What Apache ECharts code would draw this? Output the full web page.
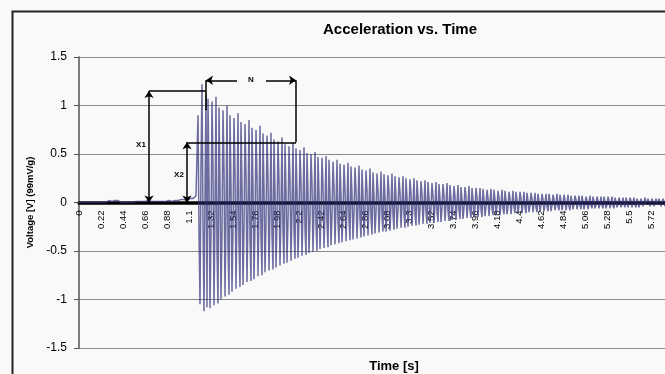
<!DOCTYPE html>
<html>
<head>
<meta charset="utf-8">
<script src="https://cdn.jsdelivr.net/npm/echarts@6/dist/echarts.min.js"></script>
<style>
  html, body { margin: 0; padding: 0; background: #f9f9f9; }
  #chart { width: 665px; height: 374px; }
</style>
</head>
<body>
<div id="chart"></div>
<script>
// sample spacing of the recording, seconds
const timeStep = 0.01;

// quiet part before the tap, 0 .. 1.17 s
const quiet = [
  0, 0, 0, 0, 0, 0, 0, 0, 0, 0, 0, 0, 0, 0, 0, 0, 0, 0, 0, 0,
  0, 0, 0, 0, 0, 0, 0, 0, 0, 0.01, 0.02, 0.01, 0.02, 0.01, 0.02, 0.01, 0.02, 0.01, 0.01, 0.02,
  0.01, 0.01, 0, 0, 0, 0, 0.01, 0, 0, 0, 0, 0, 0.01, 0, 0, 0, 0.01, 0.01, 0, 0.01,
  0.01, 0.02, 0.01, 0.01, 0.02, 0.01, 0.01, 0, 0.01, 0.02, 0.01, 0.02, 0.01, 0.01, 0, 0.01, 0.01, 0.02, 0.01, 0.01,
  0.02, 0.01, 0.02, 0.02, 0.01, 0.02, 0.03, 0.01, 0.02, 0.01, 0.02, 0.03, 0.02, 0.01, 0.02, 0.03, 0.02, 0.02, 0.03, 0.02,
  0.03, 0.02, 0.03, 0.04, 0.02, 0.03, 0.04, 0.03, 0.02, 0.04, 0.03, 0.04, 0.05, 0.03, 0.04, 0.06, 0.05, 0.07
];

// ringing after the tap, 1.18 .. 5.86 s (one row = 0.11 s, three cycles)
const ringing = [
  0.05, 0.90, -0.30, -1.05, 0.40, 1.22, -0.20, -1.12, 0.10, 1.12, -1.08,
  1.07, 0.22, -1.09, -0.33, 1.04, 0.38, -1.06, -0.11, 1.09, -0.49, -1.04,
  0.98, 0.20, -1.00, -0.30, 0.95, 0.35, -0.97, -0.10, 1.00, -0.45, -0.95,
  0.90, 0.18, -0.92, -0.28, 0.87, 0.32, -0.89, -0.09, 0.92, -0.41, -0.87,
  0.83, 0.17, -0.85, -0.26, 0.81, 0.30, -0.82, -0.09, 0.85, -0.38, -0.81,
  0.77, 0.16, -0.79, -0.24, 0.75, 0.27, -0.76, -0.08, 0.79, -0.35, -0.75,
  0.71, 0.14, -0.72, -0.22, 0.69, 0.25, -0.70, -0.07, 0.72, -0.33, -0.69,
  0.65, 0.13, -0.67, -0.20, 0.63, 0.23, -0.65, -0.07, 0.67, -0.30, -0.63,
  0.60, 0.12, -0.62, -0.18, 0.58, 0.22, -0.60, -0.06, 0.62, -0.28, -0.58,
  0.56, 0.11, -0.57, -0.17, 0.54, 0.20, -0.55, -0.06, 0.57, -0.26, -0.54,
  0.51, 0.10, -0.52, -0.16, 0.50, 0.18, -0.51, -0.05, 0.52, -0.23, -0.50,
  0.47, 0.10, -0.48, -0.14, 0.46, 0.17, -0.47, -0.05, 0.48, -0.22, -0.46,
  0.44, 0.09, -0.44, -0.13, 0.42, 0.16, -0.43, -0.04, 0.44, -0.20, -0.42,
  0.40, 0.08, -0.41, -0.12, 0.39, 0.14, -0.40, -0.04, 0.41, -0.18, -0.39,
  0.37, 0.08, -0.38, -0.11, 0.36, 0.13, -0.37, -0.04, 0.38, -0.17, -0.36,
  0.34, 0.07, -0.35, -0.10, 0.33, 0.12, -0.34, -0.03, 0.35, -0.16, -0.33,
  0.31, 0.06, -0.32, -0.10, 0.30, 0.11, -0.31, -0.03, 0.32, -0.14, -0.30,
  0.29, 0.06, -0.30, -0.09, 0.28, 0.10, -0.29, -0.03, 0.30, -0.13, -0.28,
  0.27, 0.05, -0.27, -0.08, 0.26, 0.10, -0.26, -0.03, 0.27, -0.12, -0.26,
  0.25, 0.05, -0.25, -0.08, 0.24, 0.09, -0.24, -0.03, 0.25, -0.11, -0.24,
  0.23, 0.05, -0.23, -0.07, 0.22, 0.08, -0.22, -0.02, 0.23, -0.10, -0.22,
  0.21, 0.04, -0.21, -0.06, 0.20, 0.07, -0.21, -0.02, 0.21, -0.10, -0.20,
  0.19, 0.04, -0.20, -0.06, 0.19, 0.07, -0.19, -0.02, 0.20, -0.09, -0.19,
  0.18, 0.04, -0.18, -0.05, 0.17, 0.06, -0.18, -0.02, 0.18, -0.08, -0.17,
  0.16, 0.03, -0.17, -0.05, 0.16, 0.06, -0.16, -0.02, 0.17, -0.08, -0.16,
  0.15, 0.03, -0.15, -0.05, 0.15, 0.05, -0.15, -0.02, 0.15, -0.07, -0.15,
  0.14, 0.03, -0.14, -0.04, 0.13, 0.05, -0.14, -0.01, 0.14, -0.06, -0.13,
  0.13, 0.03, -0.13, -0.04, 0.12, 0.05, -0.13, -0.01, 0.13, -0.06, -0.12,
  0.12, 0.02, -0.12, -0.04, 0.11, 0.04, -0.12, -0.01, 0.12, -0.05, -0.11,
  0.11, 0.02, -0.11, -0.03, 0.11, 0.04, -0.11, -0.01, 0.11, -0.05, -0.11,
  0.10, 0.02, -0.10, -0.03, 0.10, 0.04, -0.10, -0.01, 0.10, -0.05, -0.10,
  0.09, 0.02, -0.09, -0.03, 0.09, 0.03, -0.09, -0.01, 0.09, -0.04, -0.09,
  0.09, 0.02, -0.09, -0.03, 0.08, 0.03, -0.08, -0.01, 0.09, -0.04, -0.08,
  0.08, 0.02, -0.08, -0.02, 0.08, 0.03, -0.08, -0.01, 0.08, -0.04, -0.08,
  0.07, 0.01, -0.07, -0.02, 0.07, 0.03, -0.07, -0.01, 0.07, -0.03, -0.07,
  0.07, 0.01, -0.07, -0.02, 0.06, 0.02, -0.07, -0.01, 0.07, -0.03, -0.06,
  0.06, 0.01, -0.06, -0.02, 0.06, 0.02, -0.06, -0.01, 0.06, -0.03, -0.06,
  0.06, 0.01, -0.06, -0.02, 0.06, 0.02, -0.06, -0.01, 0.06, -0.03, -0.06,
  0.05, 0.01, -0.05, -0.02, 0.05, 0.02, -0.05, -0.01, 0.05, -0.02, -0.05,
  0.05, 0.01, -0.05, -0.01, 0.05, 0.02, -0.05, 0, 0.05, -0.02, -0.05,
  0.04, 0.01, -0.05, -0.01, 0.04, 0.02, -0.04, 0, 0.05, -0.02, -0.04,
  0.04, 0.01, -0.04, -0.01, 0.04, 0.01, -0.04, 0, 0.04, -0.02, -0.04,
  0.04, 0.01, -0.04, -0.01, 0.04, 0.01, -0.04
];

const voltage = quiet.concat(ringing);
// category labels: 0, 0.01, ... (axis shows every 22nd)
const times = voltage.map((_, i) => String(+(i * timeStep).toFixed(2)));

// hand-drawn markup on the plot: [sample index, volts]
const x1Arrow = [[70, 0], [70, 1.15]];
const x2Arrow = [[108, 0], [108, 0.62]];
const x1Lead = [[70, 1.15], [127, 1.15]];
const x2Lead = [[108, 0.62], [217, 0.62]];
const nLeft = [[127, 1.26], [127, 0.95]];
const nRight = [[217, 1.26], [217, 0.62]];
const nArrowL = [[158, 1.26], [127, 1.26]];
const nArrowR = [[187, 1.26], [217, 1.26]];
const markLabels = [['X1', 62, 0.6], ['X2', 100, 0.29], ['N', 172, 1.26]];

const font = 'Liberation Sans, Arial, sans-serif';

function seg(p, symA, symB) {
  return [
    { coord: p[0], symbol: symA },
    { coord: p[1], symbol: symB }
  ];
}

const chart = echarts.init(document.getElementById('chart'));
chart.setOption({
  animation: false,
  backgroundColor: '#f9f9f9',
  title: [
    {
      text: 'Acceleration vs. Time',
      left: 395, top: 17, textAlign: 'center',
      textStyle: { fontFamily: font, fontSize: 15, fontWeight: 'bold', color: '#000' }
    },
    {
      text: 'Time [s]',
      left: 389, top: 355, textAlign: 'center',
      textStyle: { fontFamily: font, fontSize: 13, fontWeight: 'bold', color: '#000' }
    }
  ],
  graphic: [{
    type: 'rect', left: 10, top: 9, silent: true,
    shape: { width: 800, height: 420 },
    style: { fill: 'none', stroke: '#222', lineWidth: 2 }
  }],
  grid: { left: 79, right: 0, top: 57, bottom: 26 },
  xAxis: {
    type: 'category',
    data: times,
    boundaryGap: false,
    // axis sits on the zero line, labels hang under it
    offset: -145.5,
    axisLine: { onZero: false, lineStyle: { color: '#000', width: 3.5 } },
    axisTick: { show: false },
    axisLabel: {
      interval: 21, rotate: 90, margin: 8,
      fontFamily: font, fontSize: 9.5, color: '#000'
    },
    splitLine: { show: false }
  },
  yAxis: {
    type: 'value',
    min: -1.5, max: 1.5, interval: 0.5,
    name: 'Voltage [V] (99mV/g)',
    nameLocation: 'middle',
    nameGap: 42,
    nameTextStyle: { fontFamily: font, fontSize: 9.5, fontWeight: 'bold', color: '#000' },
    axisLine: { show: true, lineStyle: { color: '#555', width: 1.5 } },
    axisTick: { show: true, length: 5, lineStyle: { color: '#555' } },
    axisLabel: { margin: 12, fontFamily: font, fontSize: 12, color: '#000' },
    splitLine: { show: true, lineStyle: { color: '#8a8a8a', width: 1 } }
  },
  series: [{
    type: 'line',
    data: voltage,
    showSymbol: false,
    sampling: 'none',
    lineStyle: { color: '#30307a', width: 1.5, opacity: 0.7 },
    markLine: {
      silent: true,
      symbolSize: 7,
      label: { show: false },
      lineStyle: { color: '#000', width: 1.5, type: 'solid', opacity: 1 },
      data: [
        seg(x1Arrow, 'arrow', 'arrow'),
        seg(x2Arrow, 'arrow', 'arrow'),
        seg(x1Lead, 'none', 'none'),
        seg(x2Lead, 'none', 'none'),
        seg(nLeft, 'none', 'none'),
        seg(nRight, 'none', 'none'),
        seg(nArrowL, 'none', 'arrow'),
        seg(nArrowR, 'none', 'arrow')
      ]
    },
    markPoint: {
      silent: true,
      symbol: 'circle',
      symbolSize: 0,
      label: {
        show: true, position: 'inside', formatter: '{b}',
        fontFamily: font, fontSize: 8, fontWeight: 'bold', color: '#000'
      },
      data: markLabels.map(m => ({ name: m[0], coord: [m[1], m[2]] }))
    }
  }]
});
</script>
</body>
</html>
